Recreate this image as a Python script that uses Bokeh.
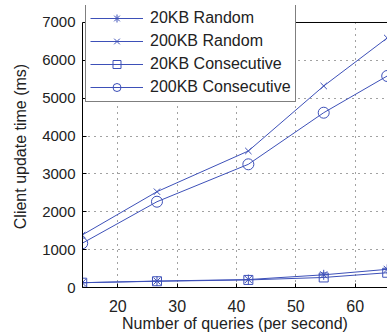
from bokeh.plotting import figure
from bokeh.models import FixedTicker, Range1d, Legend, LegendItem, Span, BoxAnnotation
from bokeh.embed import file_html
from bokeh.resources import INLINE

# ---- data ----
queries = [14.0, 26.6, 42.0, 54.7, 65.4]
kb20_random = [127, 170, 210, 335, 480]
kb200_random = [1387, 2531, 3606, 5323, 6591]
kb20_consecutive = [127, 165, 200, 265, 390]
kb200_consecutive = [1168, 2266, 3254, 4617, 5587]
x_ticks = [20, 30, 40, 50, 60]
y_ticks = [0, 1000, 2000, 3000, 4000, 5000, 6000, 7000]
labels = ["20KB Random", "200KB Random", "20KB Consecutive", "200KB Consecutive"]
y_top = 7000

FONT = "Liberation Sans"
BLUE = "#3d50b8"
TXT = "#222222"

p = figure(width=387, height=336, output_backend="svg", toolbar_location=None,
           x_range=Range1d(14.05, 65.45), y_range=Range1d(0, 7449),
           min_border_left=82, min_border_right=0, min_border_top=5, min_border_bottom=49,
           outline_line_color=None)

for ax, ticks in ((p.xaxis[0], x_ticks), (p.yaxis[0], y_ticks)):
    ax.ticker = FixedTicker(ticks=ticks)
    ax.axis_line_color = "black"
    ax.major_tick_line_color = "black"
    ax.major_tick_in = 4
    ax.major_tick_out = 0
    ax.minor_tick_line_color = None
    ax.major_label_text_font = FONT
    ax.major_label_text_font_size = "16px"
    ax.major_label_text_color = TXT
    ax.axis_label_text_font = FONT
    ax.axis_label_text_font_size = "16px"
    ax.axis_label_text_font_style = "normal"
    ax.axis_label_text_color = TXT

p.yaxis[0].major_label_text_font_size = "15px"
p.yaxis[0].bounds = (0, y_top)
p.xaxis[0].axis_label = "Number of queries (per second)"
p.yaxis[0].axis_label = "Client update time (ms)"
p.xaxis[0].major_label_standoff = 12
p.xaxis[0].axis_label_standoff = 0
p.yaxis[0].major_label_standoff = 7
p.yaxis[0].axis_label_standoff = 10

for g, ticks in ((p.xgrid[0], x_ticks), (p.ygrid[0], y_ticks)):
    g.ticker = FixedTicker(ticks=ticks)
    g.grid_line_color = "#444444"
    g.grid_line_dash = "1 5"
    g.grid_line_width = 1

series = [
    (kb20_random, "asterisk", 10),
    (kb200_random, "x", 9),
    (kb20_consecutive, "square", 9),
    (kb200_consecutive, "circle", 11),
]
items = []
for (vals, marker, size), lab in zip(series, labels):
    ln = p.line(queries, vals, line_color=BLUE, line_width=1)
    sc = p.scatter(queries, vals, marker=marker, size=size, line_color=BLUE,
                   fill_color=None, line_width=1)
    items.append(LegendItem(label=lab, renderers=[ln, sc]))

# blank area above the top of the axes box, and the box's top edge
p.add_layout(BoxAnnotation(bottom=y_top, fill_color="white", fill_alpha=1.0,
                           line_color=None))
p.add_layout(Span(location=y_top, dimension="width", line_color="black", line_width=1))

legend = Legend(items=items, location=(3, 185), margin=0, padding=4, spacing=3,
                glyph_width=53, glyph_height=20, label_height=20, label_standoff=7,
                label_text_font=FONT, label_text_font_size="16px", label_text_color=TXT,
                border_line_color="black", border_line_width=1.2,
                background_fill_color="white", background_fill_alpha=1.0)
p.add_layout(legend)

open("out.html", "w").write(file_html(p, INLINE))
